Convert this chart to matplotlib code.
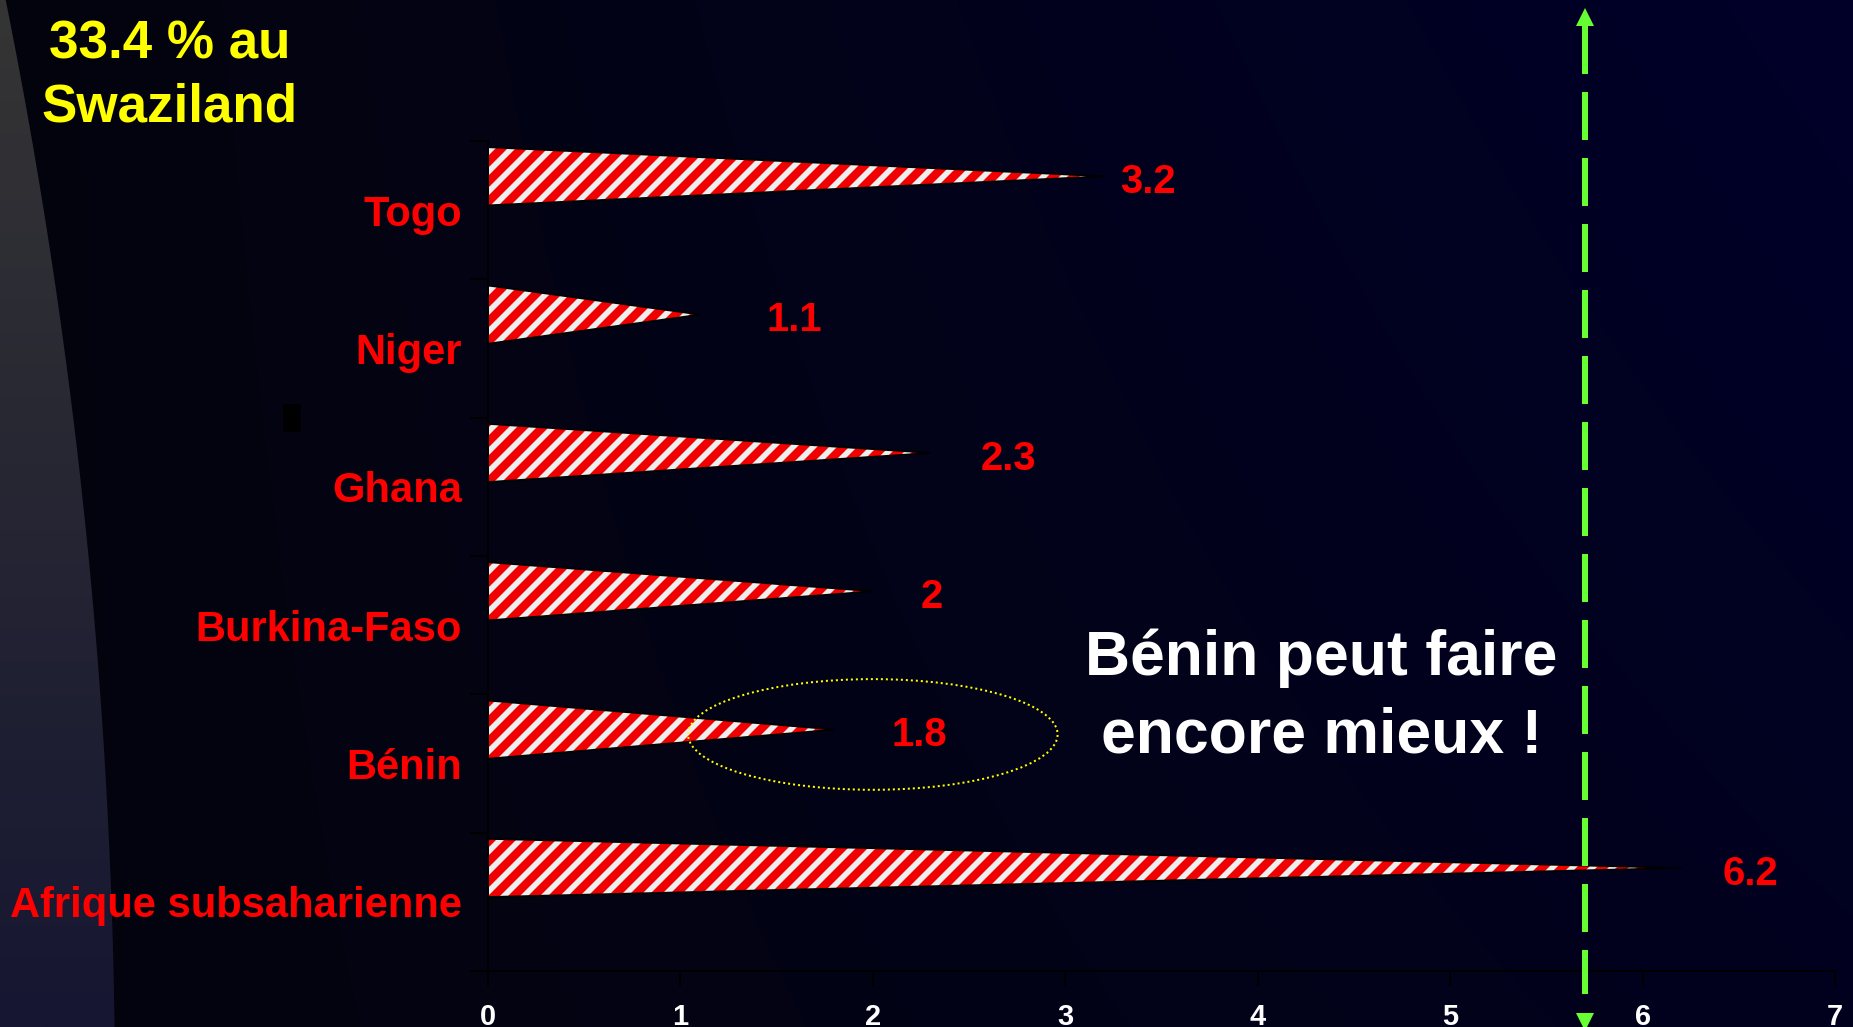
import numpy as np
import matplotlib.pyplot as plt
from matplotlib.patches import Ellipse, Polygon, Rectangle
from matplotlib.transforms import blended_transform_factory

# prevalence (%) by country, bottom to top
countries = ['Afrique subsaharienne', 'Bénin', 'Burkina-Faso', 'Ghana', 'Niger', 'Togo']
values = [6.2, 1.8, 2.0, 2.3, 1.1, 3.2]
value_labels = ['6.2', '1.8', '2', '2.3', '1.1', '3.2']
label_gap = [24.6, 34.2, 28.8, 30, 40.2, 9.6]  # points right of each tip
target = 5.7
xticks = list(range(8))

W, H, DPI = 1853, 1027, 120
plt.rcParams['font.family'] = ['Liberation Sans', 'DejaVu Sans']
plt.rcParams['hatch.linewidth'] = 3.4

fig = plt.figure(figsize=(W / DPI, H / DPI), dpi=DPI)

# slide background: dark navy gradient + grey swoosh on the left
bg = fig.add_axes([0, 0, 1, 1], zorder=-1)
yy, xx = np.mgrid[0:1:260j, 0:1:460j]
t = np.clip(xx ** 1.05 * (1 - 0.4 * yy), 0, 1)[..., None]
dark = np.array([4, 4, 14]) / 255
navy = np.array([0, 0, 42]) / 255
bg.imshow(dark + (navy - dark) * t, extent=(0, W, H, 0), aspect='auto', interpolation='bilinear')

ys = np.linspace(0, H, 200)
edge = -5475 + np.sqrt(5590 ** 2 - (ys - 1100) ** 2)
shape = Polygon(np.column_stack([np.r_[0, edge, 0], np.r_[0, ys, H]]), closed=True,
                facecolor='none', edgecolor='none')
bg.add_patch(shape)
g = np.linspace(0, 1, 200)[:, None, None]
top = np.array([53, 53, 53]) / 255
bot = np.array([22, 22, 50]) / 255
grad = (top + (bot - top) * g) * np.ones((1, 2, 1))
im = bg.imshow(grad, extent=(0, 130, H, 0), aspect='auto', interpolation='bilinear')
im.set_clip_path(shape)
bg.add_patch(Rectangle((284, 405), 16, 26, color='black'))
bg.set_xlim(0, W)
bg.set_ylim(H, 0)
bg.axis('off')

bg.text(170, 76, '33.4 % au\nSwaziland', ha='center', va='center', color='#ffff00',
        fontsize=31.8, fontweight='bold', linespacing=1.35)

ax = fig.add_axes([488 / W, 1 - 971 / H, (1835 - 488) / W, (971 - 141) / H])
ax.set_facecolor('none')

pos = np.arange(len(countries))
half = 0.21
lift = 0.245
for p, v, lab, gap in zip(pos, values, value_labels, label_gap):
    c = p + lift
    ax.fill([0, v, 0], [c - half, c, c + half], facecolor='#f00000', edgecolor='#eeeeee',
            hatch='//', linewidth=0, zorder=2)
    ax.fill([0, v, 0], [c - half, c, c + half], facecolor='none', edgecolor='black',
            linewidth=1, zorder=3)
    ax.annotate(lab, (v, c), xytext=(gap, -3.5), textcoords='offset points', va='center',
                ha='left', color='#ff0000', fontsize=24, fontweight='bold')

ax.set_xlim(0, 7)
ax.set_ylim(-0.5, 5.5)
ax.set_xticks(xticks)
ax.set_xticklabels([str(x) for x in xticks], fontweight='bold')
ax.tick_params(axis='x', direction='out', length=9, width=1.2, color='black', pad=10,
               labelcolor='white', labelsize=17.4)
ax.set_yticks(np.arange(-0.5, 6, 1))
ax.set_yticklabels([])
ax.set_yticks(pos, minor=True)
ax.set_yticklabels(countries, minor=True, color='#ff0000', fontsize=25, fontweight='bold')
ax.tick_params(axis='y', which='major', length=11, width=1.2, color='black')
ax.tick_params(axis='y', which='minor', length=0, pad=15.6)
for s in ['top', 'right']:
    ax.spines[s].set_visible(False)
for s in ['left', 'bottom']:
    ax.spines[s].set_color('black')
    ax.spines[s].set_linewidth(1.2)

# dashed double arrow
tr = blended_transform_factory(ax.transData, fig.transFigure)
green = '#66ff33'
ax.plot([target, target], [1 - 26 / H, 1 - 994 / H], transform=tr, color=green, lw=3.6,
        dashes=(8, 3), clip_on=False, zorder=4)
ax.plot([target], [1 - 17 / H], marker='^', ms=10.8, mew=0, color=green, transform=tr,
        clip_on=False, zorder=4)
ax.plot([target], [1 - 1022 / H], marker='v', ms=10.8, mew=0, color=green, transform=tr,
        clip_on=False, zorder=4)

ax.add_patch(Ellipse((2.0, 1.21), 1.92, 0.80, fill=False, edgecolor='#ffff00', lw=1.2,
                     linestyle=(0, (1, 1.5)), zorder=5))
ax.text(4.33, 1.48, 'Bénin peut faire\nencore mieux !', ha='center', va='center',
        color='white', fontsize=37.5, fontweight='bold', linespacing=1.4)

fig.savefig('out.png', dpi=DPI)
